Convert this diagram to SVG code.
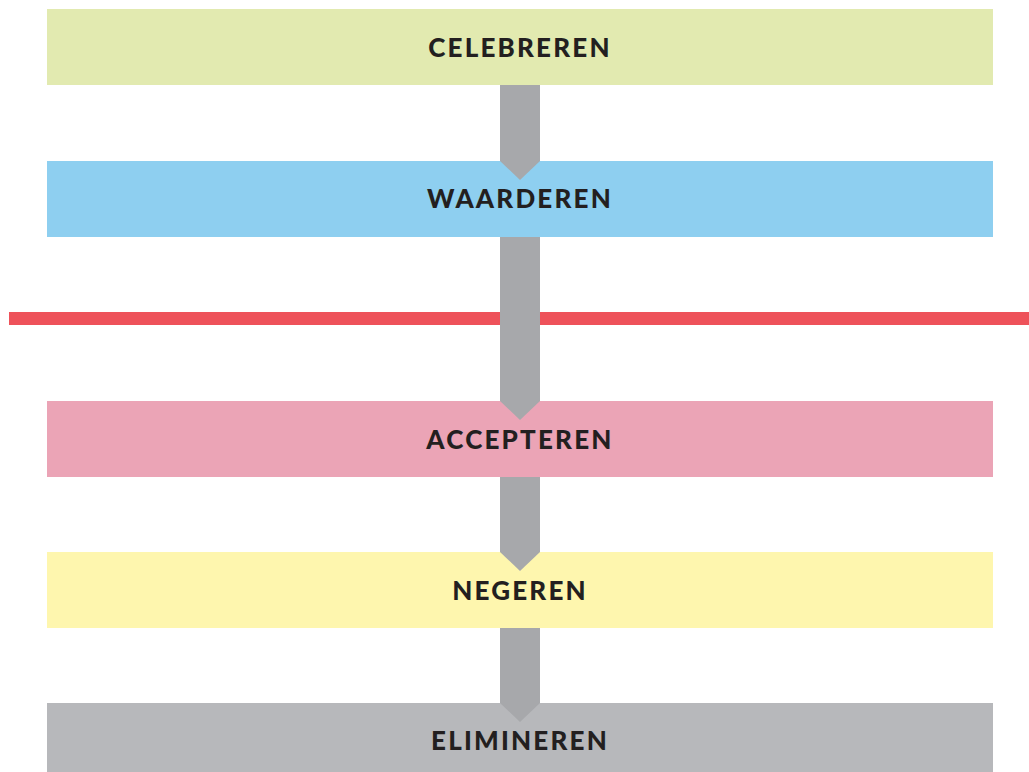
<svg xmlns="http://www.w3.org/2000/svg" width="1029" height="772" viewBox="0 0 1029 772">
<style>
.box{stroke:none}
.lbl{font-family:Lato,"Liberation Sans",sans-serif;font-weight:900;font-size:26px;letter-spacing:2.2px;fill:#231f20;text-anchor:middle}
.arrow{fill:#a7a8ab}
</style>
<rect x="0" y="0" width="1029" height="772" fill="#ffffff"/>
<g id="node-celebreren"><rect class="box" x="47" y="9" width="946" height="76" fill="#e2eab0"/><text class="lbl" x="520" y="57">CELEBREREN</text></g>
<g id="node-waarderen"><rect class="box" x="47" y="161" width="946" height="76" fill="#8ecff0"/><text class="lbl" x="520" y="208">WAARDEREN</text></g>
<g id="node-accepteren"><rect class="box" x="47" y="401" width="946" height="76" fill="#eba4b6"/><text class="lbl" x="520" y="449">ACCEPTEREN</text></g>
<g id="node-negeren"><rect class="box" x="47" y="552" width="946" height="76" fill="#fef6ae"/><text class="lbl" x="520" y="600">NEGEREN</text></g>
<g id="node-elimineren"><rect class="box" x="47" y="703" width="946" height="76" fill="#b7b8bb"/><text class="lbl" x="520" y="750">ELIMINEREN</text></g>
<g id="red-line"><rect x="9" y="312" width="1020" height="13" fill="#ee525a"/></g>
<g id="connectors">
<path class="arrow" d="M500 85 H540 V161 L520 180 L500 161 Z"/>
<path class="arrow" d="M500 237 H540 V401 L520 420 L500 401 Z"/>
<path class="arrow" d="M500 477 H540 V552 L520 571 L500 552 Z"/>
<path class="arrow" d="M500 628 H540 V703 L520 722 L500 703 Z"/>
</g>
</svg>
